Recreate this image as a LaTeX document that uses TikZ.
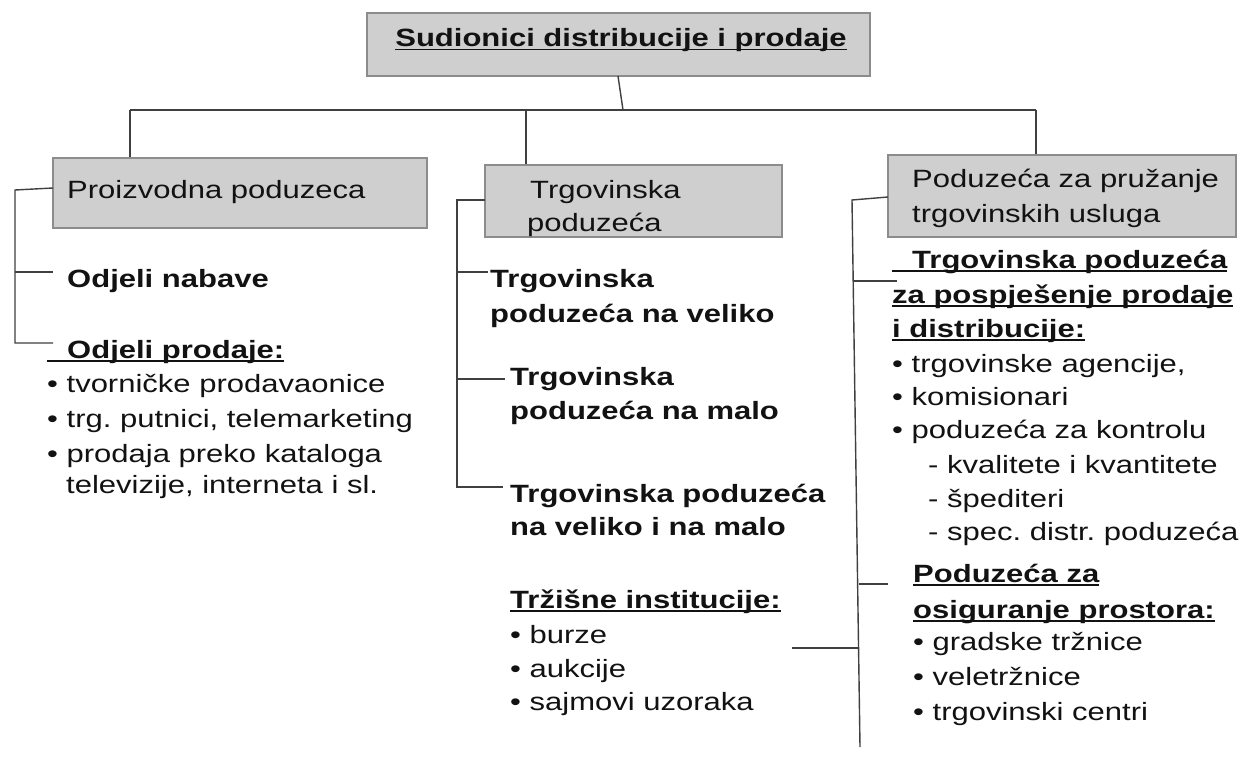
\documentclass[tikz,border=0pt]{standalone}
\usepackage{fontspec}
\setmainfont{Liberation Sans}[FakeStretch=1.24]
\frenchspacing
\newcommand{\myul}[1]{\setbox0=\hbox{#1}\rlap{\rule[-3.5pt]{\wd0}{1.8pt}}\box0}
\begin{document}
\begin{tikzpicture}[x=1pt,y=-1pt,
  graybox/.style={draw=black!45,line width=2pt,fill=black!19,inner sep=0pt},
  txt/.style={anchor=base west,inner sep=0pt,text=black!93,font=\fontsize{25}{30}\selectfont},
  btxt/.style={txt,font=\fontsize{25}{30}\selectfont\bfseries},
  conn/.style={draw=black!75,line width=1.4pt}]
\path[use as bounding box,fill=white] (0,0) rectangle (1239,773);

% boxes
\node[graybox,minimum width=503pt,minimum height=63pt] (top) at (618.5,44.5) {};
\node[btxt,anchor=base] (title) at (621,47) {\myul{Sudionici distribucije i prodaje}};
\node[graybox,minimum width=374pt,minimum height=70pt] (left) at (240,193) {};
\node[txt] (leftT) at (67,198) {Proizvodna poduzeca};
\node[graybox,minimum width=297pt,minimum height=72pt] (mid) at (633.5,201) {};
\node[txt] (midT1) at (530,198) {Trgovinska};
\node[txt] (midT2) at (527,231) {poduzeća};
\node[graybox,minimum width=348pt,minimum height=82pt] (right) at (1062,196) {};
\node[txt] (rightT1) at (912,187) {Poduzeća za pružanje};
\node[txt] (rightT2) at (912,222) {trgovinskih usluga};

% top connectors
\coordinate (hl) at (130,110);
\coordinate (hm) at (526,110);
\coordinate (hr) at (1036,110);
\coordinate (hc) at (623,110);
\draw[conn] (618,76) -- (hc);
\draw[conn] (hl) -- (hr);
\draw[conn] (hl) -- (hl |- left.north);
\draw[conn] (hm) -- (hm |- mid.north);
\draw[conn] (hr) -- (hr |- right.north);

% left column
\node[btxt] (nab) at (67,287) {Odjeli nabave};
\node[btxt] (prod) at (47,358) {\myul{\kern20pt Odjeli prodaje:}};
\node[txt] (l1) at (47,392) {• tvorničke prodavaonice};
\node[txt] (l2) at (47,427) {• trg. putnici, telemarketing};
\node[txt] (l3) at (47,462) {• prodaja preko kataloga};
\node[txt] (l4) at (66,493) {televizije, interneta i sl.};
\coordinate (la) at (15,190);
\coordinate (lb) at (15,343);
\draw[conn] (53,188) -- (la) -- (lb) -- (53,343);
\draw[conn] (15,272) -- (53,272);

% middle column
\node[btxt] (m1a) at (490,287) {Trgovinska};
\node[btxt] (m1b) at (490,322) {poduzeća na veliko};
\node[btxt] (m2a) at (510,385) {Trgovinska};
\node[btxt] (m2b) at (510,419) {poduzeća na malo};
\node[btxt] (m3a) at (510,502) {Trgovinska poduzeća};
\node[btxt] (m3b) at (510,535) {na veliko i na malo};
\node[btxt] (m4) at (510,608) {\myul{Tržišne institucije:}};
\node[txt] (m5) at (510,643) {• burze};
\node[txt] (m6) at (510,677) {• aukcije};
\node[txt] (m7) at (510,710) {• sajmovi uzoraka};
\coordinate (ma) at (457,200);
\coordinate (mb) at (457,487);
\draw[conn] (485,200) -- (ma) -- (mb) -- (503,487);
\draw[conn] (457,272) -- (488,272);
\draw[conn] (457,379) -- (505,379);

% right column
\node[btxt] (r1) at (892,268) {\myul{\kern20pt Trgovinska poduzeća}};
\node[btxt] (r2) at (892,303) {\myul{za pospješenje prodaje}};
\node[btxt] (r3) at (892,337) {\myul{i distribucije:}};
\node[txt] (r4) at (892,372) {• trgovinske agencije,};
\node[txt] (r5) at (892,405) {• komisionari};
\node[txt] (r6) at (892,438) {• poduzeća za kontrolu};
\node[txt] (r7) at (928,473) {- kvalitete i kvantitete};
\node[txt] (r8) at (928,507) {- špediteri};
\node[txt] (r9) at (928,540) {- spec. distr. poduzeća};
\node[btxt] (r10) at (913,582) {\myul{Poduzeća za}};
\node[btxt] (r11) at (913,618) {\myul{osiguranje prostora:}};
\node[txt] (r12) at (913,650) {• gradske tržnice};
\node[txt] (r13) at (913,685) {• veletržnice};
\node[txt] (r14) at (913,720) {• trgovinski centri};
\coordinate (ra) at (852,200);
\coordinate (rb) at (860,747);
\draw[conn] (888,197) -- (ra) -- (rb);
\draw[conn] (852.6,281) -- (897,281);
\draw[conn] (859,584) -- (888,584);
\draw[conn] (792,648) -- (859.4,648);
\end{tikzpicture}
\end{document}
